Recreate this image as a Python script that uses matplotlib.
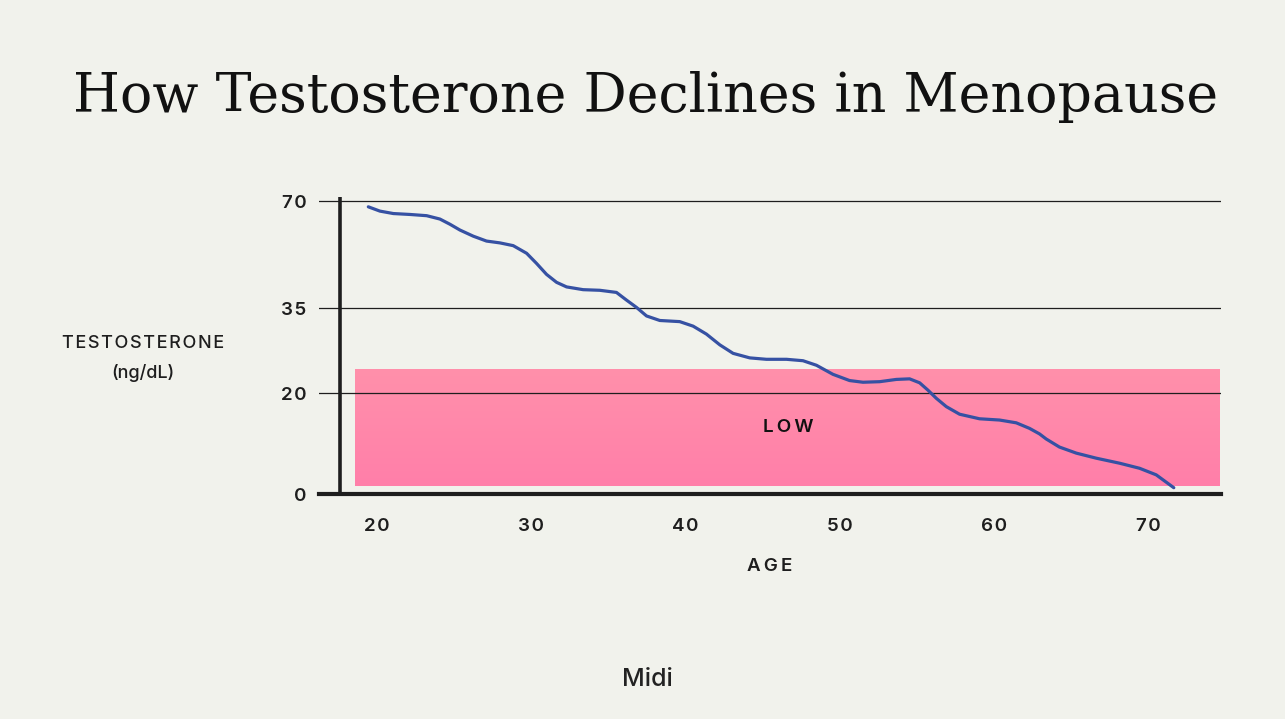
import numpy as np
import matplotlib
matplotlib.use("Agg")
import matplotlib.pyplot as plt
from matplotlib.colors import LinearSegmentedColormap

# ---- data ----
age = [19.44, 20.19, 21.06, 22.14, 23.22, 24.08, 24.73, 25.38, 26.24, 27.10, 27.97, 28.83,
       29.70, 30.34, 30.99, 31.64, 32.29, 33.36, 34.44, 35.52, 36.17, 36.82, 37.47, 38.33,
       39.62, 40.49, 41.35, 42.22, 43.08, 44.16, 45.24, 46.54, 47.61, 48.48, 49.55, 50.63,
       51.50, 52.58, 53.66, 54.52, 55.17, 55.71, 56.25, 56.90, 57.76, 59.05, 60.35, 61.43,
       62.29, 62.94, 63.37, 64.23, 65.32, 66.61, 68.13, 69.42, 70.50, 71.64]
testosterone = [68.1, 66.7, 65.9, 65.6, 65.2, 64.1, 62.4, 60.5, 58.5, 56.9, 56.3, 55.4,
                52.9, 49.6, 46.0, 43.4, 41.9, 41.0, 40.8, 40.1, 37.6, 35.2, 33.6, 32.8,
                32.6, 31.8, 30.4, 28.5, 27.0, 26.2, 25.95, 25.95, 25.7, 24.9, 23.3, 22.2,
                21.9, 22.0, 22.4, 22.5, 21.8, 20.5, 18.95, 17.3, 15.8, 14.9, 14.65, 14.1,
                13.0, 11.9, 10.9, 9.3, 8.1, 7.1, 6.1, 5.1, 3.8, 1.25]
x_ticks = [20, 30, 40, 50, 60, 70]
y_ticks = [0, 20, 35, 70]
low_band = (18.6, 74.7, 1.6, 24.4)  # age start, age end, low value, high value

title = "How Testosterone Declines in Menopause"
BG = "#f1f2ec"
DARK = "#1e1e1e"
SANS = ["Inter", "DejaVu Sans"]

# non-linear y scale (piecewise linear through the tick values)
yv = np.array([0, 20, 35, 70], dtype=float)
yp = np.array([0, 101, 186, 293], dtype=float)

def _pw(v, a, b):
    v = np.asarray(v, dtype=float)
    out = np.interp(v, a, b)
    out = np.where(v > a[-1], b[-1] + (v - a[-1]) * (b[-1] - b[-2]) / (a[-1] - a[-2]), out)
    out = np.where(v < a[0], b[0] + (v - a[0]) * (b[1] - b[0]) / (a[1] - a[0]), out)
    return out

def fwd(v):
    return _pw(v, yv, yp)

def inv(p):
    return _pw(p, yp, yv)

def spaced(s, sp="\u2009"):
    return sp.join(s)

fig = plt.figure(figsize=(12.85, 7.19), dpi=100)
fig.patch.set_facecolor(BG)
ax = fig.add_axes([0.2482, 0.3129, 0.7020, 0.4131])
ax.set_facecolor(BG)
ax.set_yscale("function", functions=(fwd, inv))
ax.set_xlim(16.24, 74.7)
ax.set_ylim(0, 71.31)

# low band with slight vertical gradient
cmap = LinearSegmentedColormap.from_list("pink", ["#ff7fa9", "#ff90ab"])
grad = np.linspace(0, 1, 64).reshape(-1, 1)
ax.imshow(grad, cmap=cmap, origin="lower", aspect="auto",
          extent=(low_band[0], low_band[1], low_band[2], low_band[3]), zorder=1,
          interpolation="bilinear")
ax.text((low_band[0] + low_band[1]) / 2, 13.1, spaced("LOW"), ha="center", va="center",
        fontsize=13.5, family=SANS, fontweight="semibold", color="#111111", zorder=4)

# gridlines
for v in y_ticks:
    ax.axhline(v, color=DARK, lw=0.9, zorder=2)

ax.plot(age, testosterone, color="#3651a3", lw=2.3, solid_capstyle="round",
        solid_joinstyle="round", zorder=5)

# axes lines
ax.axvline(17.6, color=DARK, lw=2.6, zorder=6)
for s in ["top", "right", "left"]:
    ax.spines[s].set_visible(False)
ax.spines["bottom"].set_linewidth(3)
ax.spines["bottom"].set_color(DARK)
ax.spines["bottom"].set_zorder(6)

ax.set_xticks(x_ticks)
ax.set_xticklabels([spaced(str(t), "\u200a") for t in x_ticks])
ax.set_yticks(y_ticks)
ax.set_yticklabels([spaced(str(t), "\u200a") for t in y_ticks])
ax.minorticks_off()
ax.tick_params(axis="both", length=0, labelsize=13.5, labelcolor=DARK)
ax.tick_params(axis="y", pad=9)
ax.tick_params(axis="x", pad=17)
for lab in ax.get_xticklabels() + ax.get_yticklabels():
    lab.set_family(SANS)
    lab.set_fontweight("semibold")

ax.set_xlabel(spaced("AGE"), fontsize=13.5, family=SANS, fontweight="semibold",
              color=DARK, labelpad=17)

fig.text(143 / 1285, 1 - 344 / 719, spaced("TESTOSTERONE", "\u200a"), ha="center",
         va="center", fontsize=13, family=SANS, fontweight="medium", color=DARK)
fig.text(143 / 1285, 1 - 373 / 719, "(ng/dL)", ha="center", va="center",
         fontsize=13, family=SANS, fontweight="medium", color=DARK)

fig.text(646 / 1285, 1 - 97 / 719, title, ha="center", va="center",
         fontsize=38.8, family=["DejaVu Serif"], color="#111111")

fig.text(647 / 1285, 1 - 680 / 719, "Midi", ha="center", va="center",
         fontsize=18, family=SANS, fontweight="medium", color="#222222")

fig.savefig("out.png", dpi=100, facecolor=BG)
